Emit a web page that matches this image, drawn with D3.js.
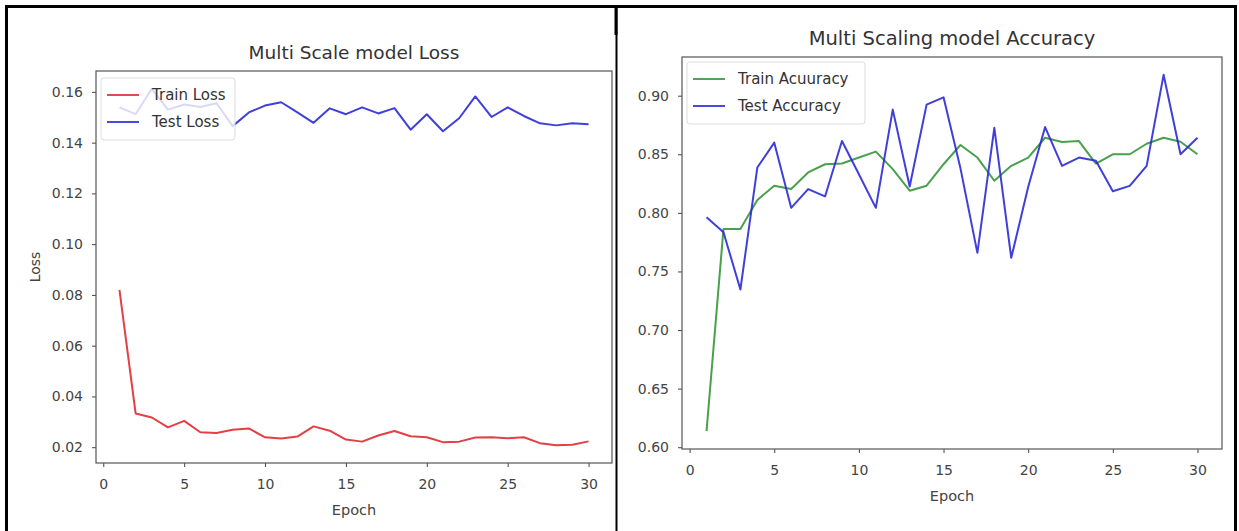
<!DOCTYPE html>
<html>
<head>
<meta charset="utf-8">
<script src="https://cdn.jsdelivr.net/npm/d3@7"></script>
<style>
  html, body { margin: 0; padding: 0; background: #fff; }
  svg { display: block; }
  text { font-family: "DejaVu Sans", sans-serif; }
</style>
</head>
<body>
<svg id="chart" width="1239" height="531"></svg>
<script>
// ---------------- data ----------------
const epochs = d3.range(1, 31);
const trainLoss = [0.0820, 0.0333, 0.0317, 0.0278, 0.0304, 0.0259, 0.0256, 0.0269, 0.0274, 0.0239,
                   0.0234, 0.0242, 0.0282, 0.0265, 0.0230, 0.0222, 0.0246, 0.0264, 0.0243, 0.0239,
                   0.0220, 0.0222, 0.0238, 0.0239, 0.0235, 0.0239, 0.0216, 0.0208, 0.0210, 0.0223];
const testLoss = [0.1539, 0.1512, 0.1612, 0.1530, 0.1550, 0.1540, 0.1555, 0.1465, 0.1519, 0.1546,
                  0.1559, 0.1519, 0.1478, 0.1535, 0.1512, 0.1539, 0.1515, 0.1536, 0.1451, 0.1512,
                  0.1445, 0.1496, 0.1582, 0.1501, 0.1539, 0.1505, 0.1476, 0.1468, 0.1476, 0.1472];
const trainAcc = [0.6137, 0.7863, 0.7863, 0.8110, 0.8232, 0.8203, 0.8345, 0.8415, 0.8421, 0.8472,
                  0.8523, 0.8373, 0.8189, 0.8232, 0.8415, 0.8579, 0.8472, 0.8274, 0.8401, 0.8472,
                  0.8641, 0.8605, 0.8613, 0.8421, 0.8500, 0.8500, 0.8590, 0.8641, 0.8607, 0.8500];
const testAcc = [0.7963, 0.7835, 0.7346, 0.8387, 0.8599, 0.8043, 0.8203, 0.8140, 0.8613, 0.8330,
                 0.8043, 0.8881, 0.8225, 0.8924, 0.8986, 0.8380, 0.7659, 0.8726, 0.7616, 0.8220,
                 0.8732, 0.8401, 0.8472, 0.8444, 0.8185, 0.8230, 0.8401, 0.9178, 0.8500, 0.8641];
const xTicks = [0, 5, 10, 15, 20, 25, 30];
const lossTicks = [0.02, 0.04, 0.06, 0.08, 0.10, 0.12, 0.14, 0.16];
const accTicks = [0.60, 0.65, 0.70, 0.75, 0.80, 0.85, 0.90];
const lossTitle = "Multi Scale model Loss";
const accTitle = "Multi Scaling model Accuracy";
const lossNames = ["Train Loss", "Test Loss"];
const accNames = ["Train Acuuracy", "Test Accuracy"];
const xLabel = "Epoch";
const lossYLabel = "Loss";

// ---------------- drawing ----------------
const svg = d3.select("#chart");
const RED = "#e02a30", BLUE = "#2a2ad6", GREEN = "#35963a";

// outer table borders
const border = svg.append("g").attr("stroke", "#000").attr("fill", "none");
border.append("line").attr("x1", 5).attr("x2", 1237).attr("y1", 6.5).attr("y2", 6.5).attr("stroke-width", 3);
border.append("line").attr("x1", 6.5).attr("x2", 6.5).attr("y1", 5).attr("y2", 531).attr("stroke-width", 3);
border.append("line").attr("x1", 616.5).attr("x2", 616.5).attr("y1", 5).attr("y2", 531).attr("stroke-width", 2);
border.append("line").attr("x1", 616).attr("x2", 616).attr("y1", 5).attr("y2", 35).attr("stroke-width", 3);
border.append("line").attr("x1", 1235.5).attr("x2", 1235.5).attr("y1", 5).attr("y2", 531).attr("stroke-width", 3);

function extentWithMargin(arrs) {
  const all = arrs.flat();
  const lo = d3.min(all), hi = d3.max(all);
  const m = (hi - lo) * 0.05;
  return [lo - m, hi + m];
}

function panel(cfg) {
  const g = svg.append("g");
  const xExt = extentWithMargin([epochs]);
  const x = d3.scaleLinear().domain(xExt).range([cfg.left, cfg.right]);
  const y = d3.scaleLinear().domain(extentWithMargin(cfg.series.map(s => s.values))).range([cfg.bottom, cfg.top]);

  // lines
  const line = d3.line().x((d, i) => x(epochs[i])).y(d => y(d));
  cfg.series.forEach(s => {
    g.append("path").datum(s.values)
      .attr("fill", "none").attr("stroke", s.color).attr("stroke-width", 2)
      .attr("stroke-linejoin", "round").attr("opacity", 0.9)
      .attr("d", line);
  });

  // axes
  const xAxis = d3.axisBottom(x).tickValues(xTicks).tickSize(4).tickPadding(12).tickFormat(d3.format("d"));
  const yAxis = d3.axisLeft(y).tickValues(cfg.yTicks).tickSize(4).tickPadding(9).tickFormat(d3.format(".2f"));
  const gx = g.append("g").attr("transform", `translate(0,${cfg.bottom})`).call(xAxis);
  const gy = g.append("g").attr("transform", `translate(${cfg.left},0)`).call(yAxis);
  [gx, gy].forEach(a => {
    a.select(".domain").remove();
    a.selectAll(".tick line").attr("stroke", "#444").attr("stroke-width", 1);
    a.selectAll(".tick text").attr("fill", "#444").attr("font-size", cfg.tickFont)
      .attr("font-family", "DejaVu Sans, sans-serif");
  });

  // frame
  g.append("rect").attr("x", cfg.left).attr("y", cfg.top)
    .attr("width", cfg.right - cfg.left).attr("height", cfg.bottom - cfg.top)
    .attr("fill", "none").attr("stroke", "#555").attr("stroke-width", 1.2);

  // title & labels
  g.append("text").attr("x", (cfg.left + cfg.right) / 2).attr("y", cfg.top - 12)
    .attr("text-anchor", "middle").attr("font-size", cfg.titleFont).attr("fill", "#333").text(cfg.title);
  g.append("text").attr("x", (cfg.left + cfg.right) / 2).attr("y", cfg.bottom + 52)
    .attr("text-anchor", "middle").attr("font-size", cfg.tickFont + 0.5).attr("fill", "#444").text(xLabel);
  if (cfg.yLabel) {
    g.append("text").attr("transform", `translate(${cfg.left - 56},${(cfg.top + cfg.bottom) / 2}) rotate(-90)`)
      .attr("text-anchor", "middle").attr("font-size", cfg.tickFont).attr("fill", "#444").text(cfg.yLabel);
  }

  // legend
  const lg = g.append("g").attr("transform", `translate(${cfg.legX},${cfg.legY})`);
  lg.append("rect").attr("width", cfg.legW).attr("height", cfg.legH).attr("rx", 3)
    .attr("fill", "#fff").attr("fill-opacity", 0.8).attr("stroke", "#ddd");
  cfg.series.forEach((s, i) => {
    const yy = 17 + i * 27;
    lg.append("line").attr("x1", 6).attr("x2", 38).attr("y1", yy).attr("y2", yy)
      .attr("stroke", s.color).attr("stroke-width", 2).attr("opacity", 0.85);
    lg.append("text").attr("x", 51).attr("y", yy + 5).attr("font-size", cfg.legFont)
      .attr("fill", "#333").text(s.name);
  });
}

panel({
  left: 96, right: 612, top: 71, bottom: 463,
  series: [{ name: lossNames[0], values: trainLoss, color: RED },
           { name: lossNames[1], values: testLoss, color: BLUE }],
  yTicks: lossTicks, title: lossTitle, yLabel: lossYLabel,
  tickFont: 14, titleFont: 18.5, legFont: 15,
  legX: 101, legY: 78, legW: 134, legH: 62
});

panel({
  left: 682, right: 1222, top: 57, bottom: 449,
  series: [{ name: accNames[0], values: trainAcc, color: GREEN },
           { name: accNames[1], values: testAcc, color: BLUE }],
  yTicks: accTicks, title: accTitle, yLabel: null,
  tickFont: 14, titleFont: 19.5, legFont: 15,
  legX: 687, legY: 62, legW: 178, legH: 62
});
</script>
</body>
</html>
